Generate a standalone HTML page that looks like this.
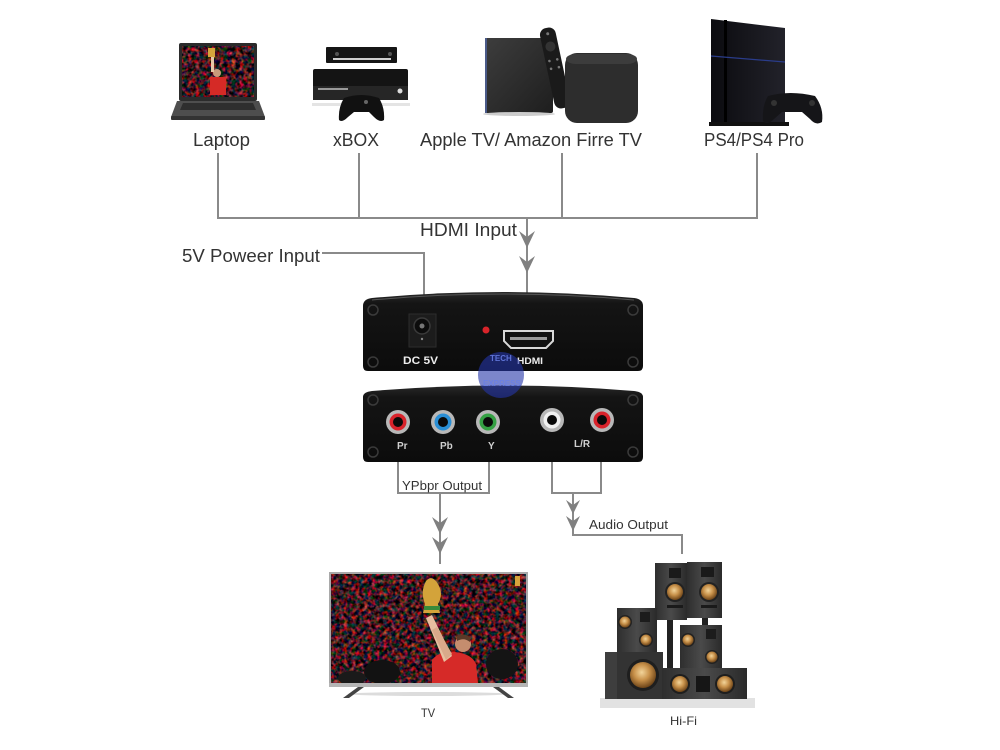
<!DOCTYPE html>
<html>
<head>
<meta charset="utf-8">
<style>
html,body{margin:0;padding:0;background:#fff;}
svg{display:block;}
text{font-family:"Liberation Sans",Arial,sans-serif;}
</style>
</head>
<body>
<svg width="1000" height="750" viewBox="0 0 1000 750" xmlns="http://www.w3.org/2000/svg">
<defs>
  <filter id="crowd" x="0" y="0" width="100%" height="100%" color-interpolation-filters="sRGB">
    <feTurbulence type="fractalNoise" baseFrequency="0.25" numOctaves="2" seed="4" result="n"/>
    <feColorMatrix in="n" type="matrix" values="2.0 0 0 0 -0.75  0.1 0.7 0 0 -0.3  0 0.2 0.6 0 -0.27  0 0 0 0 1"/>
  </filter>
  <radialGradient id="gold" cx="45%" cy="40%" r="60%">
    <stop offset="0" stop-color="#f2d49a"/>
    <stop offset="0.5" stop-color="#c8914a"/>
    <stop offset="1" stop-color="#6d4418"/>
  </radialGradient>
  <linearGradient id="boxg" x1="0" y1="0" x2="0" y2="1">
    <stop offset="0" stop-color="#2a2a2a"/>
    <stop offset="0.15" stop-color="#141414"/>
    <stop offset="1" stop-color="#0c0c0c"/>
  </linearGradient>
  <linearGradient id="spk" x1="0" y1="0" x2="1" y2="0">
    <stop offset="0" stop-color="#2e2e2e"/>
    <stop offset="0.5" stop-color="#4a4a4a"/>
    <stop offset="1" stop-color="#2a2a2a"/>
  </linearGradient>
  <linearGradient id="tab" x1="0" y1="0" x2="1" y2="1">
    <stop offset="0" stop-color="#3d3d3d"/>
    <stop offset="1" stop-color="#1e1e1e"/>
  </linearGradient>
  <linearGradient id="ps" x1="0" y1="0" x2="1" y2="0">
    <stop offset="0" stop-color="#0b0b0f"/>
    <stop offset="1" stop-color="#22222a"/>
  </linearGradient>
  <clipPath id="tvclip"><rect x="331" y="574" width="195" height="109"/></clipPath>
  <clipPath id="lapclip"><rect x="182" y="46" width="72" height="51"/></clipPath>
</defs>

<!-- ================= TOP DEVICES ================= -->
<rect x="179" y="43" width="78" height="58" rx="2" fill="#2b2b2b"/>
<g clip-path="url(#lapclip)">
  <rect x="182" y="46" width="72" height="51" fill="#3a2420"/>
  <rect x="182" y="46" width="72" height="51" filter="url(#crowd)"/>
  <rect x="210" y="77" width="16" height="18" fill="#d52a26"/>
  <circle cx="217" cy="73" r="4" fill="#c99a7a"/>
  <rect x="211" y="56" width="3" height="16" fill="#e8c8a8"/>
  <rect x="208" y="48" width="7" height="9" fill="#d6a43c"/>
</g>
<polygon points="177,101 259,101 265,117 171,117" fill="#4e4e4e"/>
<polygon points="183,103 253,103 256,110 180,110" fill="#2e2e2e"/>
<rect x="171" y="116" width="94" height="4" rx="1" fill="#333"/>

<rect x="326" y="47" width="71" height="16" rx="1" fill="#151515"/>
<rect x="333" y="58" width="58" height="2" fill="#cfcfcf"/>
<circle cx="337" cy="54" r="2" fill="#555"/>
<circle cx="390" cy="54" r="2" fill="#555"/>
<rect x="313" y="69" width="95" height="31" rx="2" fill="#141414"/>
<rect x="313" y="86" width="95" height="14" fill="#262626"/>
<rect x="318" y="88" width="30" height="2" fill="#999"/>
<circle cx="400" cy="91" r="2.5" fill="#ddd"/>
<rect x="312" y="103" width="98" height="3" fill="#e4e4e4"/>
<path d="M344,98 Q361,92 379,98 Q385,108 384,120 Q380,123 374,117 L369,112 L354,112 L348,117 Q342,123 339,120 Q338,108 344,98 Z" fill="#111"/>
<circle cx="366" cy="102" r="2" fill="#666"/>

<rect x="485" y="38" width="68" height="75" rx="2" fill="url(#tab)"/>
<rect x="485" y="38" width="2" height="75" fill="#4a5a88"/>
<ellipse cx="519" cy="114" rx="36" ry="2" fill="#ccc"/>
<g transform="rotate(-12 555 68)">
  <rect x="547" y="27" width="16" height="82" rx="7" fill="#1a1a1a"/>
  <circle cx="555" cy="46" r="5" fill="#333"/>
  <circle cx="555" cy="33" r="1.5" fill="#777"/>
  <circle cx="551" cy="60" r="1.3" fill="#777"/>
  <circle cx="559" cy="60" r="1.3" fill="#777"/>
  <circle cx="551" cy="68" r="1.3" fill="#777"/>
  <circle cx="559" cy="68" r="1.3" fill="#777"/>
</g>
<rect x="565" y="53" width="73" height="70" rx="12" fill="#2d2d2d"/>
<rect x="566" y="54" width="71" height="10" rx="10" fill="#3c3c3c"/>

<polygon points="711,19 785,28 785,125 711,125" fill="url(#ps)"/>
<rect x="724" y="20" width="3" height="105" fill="#000"/>
<line x1="711" y1="56" x2="785" y2="62" stroke="#2a3c8a" stroke-width="1.2"/>
<rect x="709" y="122" width="80" height="4" fill="#111"/>
<path d="M768,96 Q790,90 815,96 Q824,108 822,122 Q816,126 810,119 L802,112 L782,112 L774,119 Q767,126 763,121 Q762,106 768,96 Z" fill="#151518"/>
<circle cx="774" cy="103" r="3" fill="#333"/>
<circle cx="812" cy="103" r="3" fill="#333"/>

<!-- ================= TOP LABELS ================= -->
<g fill="#333" font-size="18">
  <text x="193" y="146" textLength="57" lengthAdjust="spacingAndGlyphs">Laptop</text>
  <text x="333" y="146" textLength="46" lengthAdjust="spacingAndGlyphs">xBOX</text>
  <text x="420" y="146" textLength="222" lengthAdjust="spacingAndGlyphs">Apple TV/ Amazon Firre TV</text>
  <text x="704" y="146" textLength="100" lengthAdjust="spacingAndGlyphs">PS4/PS4 Pro</text>
  <text x="420" y="236" textLength="97" lengthAdjust="spacingAndGlyphs">HDMI Input</text>
  <text x="182" y="262" textLength="138" lengthAdjust="spacingAndGlyphs">5V Poweer Input</text>
</g>

<!-- ================= CONNECTORS ================= -->
<g stroke="#8a8a8a" stroke-width="2" fill="none">
  <polyline points="218,153 218,218 757,218 757,153"/>
  <line x1="359" y1="153" x2="359" y2="218"/>
  <line x1="562" y1="153" x2="562" y2="218"/>
  <line x1="527" y1="218" x2="527" y2="340"/>
  <polyline points="322,253 424,253 424,325"/>
  <polyline points="398,432 398,493 489,493 489,432"/>
  <line x1="440" y1="493" x2="440" y2="564"/>
  <polyline points="552,432 552,493 601,493 601,432"/>
  <polyline points="573,493 573,535 682,535 682,554"/>
</g>
<g fill="#808080">
  <path d="M519,231 L527,237 L535,231 L527,248 Z"/>
  <path d="M519,256 L527,262 L535,256 L527,273 Z"/>
  <path d="M432,517 L440,523 L448,517 L440,534 Z"/>
  <path d="M432,537 L440,543 L448,537 L440,554 Z"/>
  <path d="M566,500 L573,505 L580,500 L573,514 Z"/>
  <path d="M566,516 L573,521 L580,516 L573,531 Z"/>
</g>

<!-- ================= CONVERTER BOX - TOP ================= -->
<path d="M363,306 Q363,299 372,298 Q503,286 634,298 Q643,299 643,306 L643,366 Q643,371 638,371 L368,371 Q363,371 363,366 Z" fill="url(#boxg)"/>
<path d="M372,300 Q503,288 634,300" stroke="#555" stroke-width="1" fill="none"/>
<g fill="none" stroke="#3a3a3a" stroke-width="1.5">
  <circle cx="373" cy="310" r="5"/><circle cx="633" cy="310" r="5"/>
  <circle cx="373" cy="362" r="5"/><circle cx="633" cy="362" r="5"/>
</g>
<rect x="409" y="314" width="27" height="33" fill="#1c1c1c" stroke="#2c2c2c"/>
<circle cx="422" cy="326" r="8" fill="#0c0c0c" stroke="#3a3a3a" stroke-width="1.5"/>
<circle cx="422" cy="326" r="2.5" fill="#777"/>
<circle cx="422" cy="339" r="1.2" fill="#888"/>
<circle cx="486" cy="330" r="3.5" fill="#d8242a"/>
<path d="M504,331 L553,331 L553,341 L546,348 L511,348 L504,341 Z" fill="#111" stroke="#d8d8d8" stroke-width="2"/>
<rect x="510" y="337" width="37" height="3" fill="#999"/>
<g fill="#eee" font-weight="bold">
  <text x="403" y="364" font-size="11" textLength="35" lengthAdjust="spacingAndGlyphs">DC 5V</text>
  <text x="517" y="364" font-size="9" textLength="26" lengthAdjust="spacingAndGlyphs">HDMI</text>
</g>

<!-- ================= CONVERTER BOX - BOTTOM ================= -->
<path d="M363,397 Q363,392 372,391 Q503,380 634,391 Q643,392 643,397 L643,457 Q643,462 638,462 L368,462 Q363,462 363,457 Z" fill="url(#boxg)"/>
<g fill="none" stroke="#3a3a3a" stroke-width="1.5">
  <circle cx="373" cy="400" r="5"/><circle cx="633" cy="400" r="5"/>
  <circle cx="373" cy="452" r="5"/><circle cx="633" cy="452" r="5"/>
</g>
<g>
  <circle cx="398" cy="422" r="12" fill="#b8b8b8"/><circle cx="398" cy="422" r="8.5" fill="#d9232b"/><circle cx="398" cy="422" r="5" fill="#0a0a0a"/>
  <circle cx="443" cy="422" r="12" fill="#b8b8b8"/><circle cx="443" cy="422" r="8.5" fill="#2a8fd6"/><circle cx="443" cy="422" r="5" fill="#0a0a0a"/>
  <circle cx="488" cy="422" r="12" fill="#b8b8b8"/><circle cx="488" cy="422" r="8.5" fill="#34a043"/><circle cx="488" cy="422" r="5" fill="#0a0a0a"/>
  <circle cx="552" cy="420" r="12" fill="#b8b8b8"/><circle cx="552" cy="420" r="8.5" fill="#f2f2f2"/><circle cx="552" cy="420" r="5" fill="#0a0a0a"/>
  <circle cx="602" cy="420" r="12" fill="#b8b8b8"/><circle cx="602" cy="420" r="8.5" fill="#d9232b"/><circle cx="602" cy="420" r="5" fill="#0a0a0a"/>
</g>
<g fill="#d0d0d0" font-size="10" font-weight="bold">
  <text x="397" y="449">Pr</text>
  <text x="440" y="449">Pb</text>
  <text x="488" y="449">Y</text>
  <text x="574" y="447">L/R</text>
</g>

<!-- Watermark -->
<circle cx="501" cy="375" r="23" fill="#2535a8" opacity="0.6"/>
<g fill="#6a80e8" font-weight="bold" opacity="0.85">
  <text x="490" y="361" font-size="8">TECH</text>
  <text x="483" y="386" font-size="8">EXPRESS</text>
</g>

<!-- ================= BOTTOM LABELS ================= -->
<g fill="#333" font-size="13">
  <text x="402" y="490" textLength="80" lengthAdjust="spacingAndGlyphs">YPbpr Output</text>
  <text x="589" y="529" textLength="79" lengthAdjust="spacingAndGlyphs">Audio Output</text>
  <text x="421" y="717" font-size="12" textLength="14" lengthAdjust="spacingAndGlyphs">TV</text>
  <text x="670" y="725" font-size="12" textLength="27" lengthAdjust="spacingAndGlyphs">Hi-Fi</text>
</g>

<!-- ================= TV ================= -->
<ellipse cx="428" cy="694" rx="80" ry="2" fill="#dcdcdc"/>
<rect x="329" y="572" width="199" height="115" fill="#a9a9a9"/>
<g clip-path="url(#tvclip)">
  <rect x="331" y="574" width="195" height="109" fill="#3b2622"/>
  <rect x="331" y="574" width="195" height="109" filter="url(#crowd)"/>
  <ellipse cx="382" cy="672" rx="18" ry="12" fill="#121212"/>
  <ellipse cx="502" cy="664" rx="16" ry="15" fill="#141414"/>
  <ellipse cx="352" cy="678" rx="14" ry="7" fill="#1a1a1a"/>
  <path d="M432,660 Q440,650 455,652 Q472,654 476,664 L478,683 L432,683 Z" fill="#d62a28"/>
  <circle cx="463" cy="644" r="8" fill="#c58d6e"/>
  <path d="M457,636 Q464,632 471,638 L470,642 Q464,637 457,641 Z" fill="#5a3a28"/>
  <path d="M444,662 L426,618 L432,615 L452,656 Z" fill="#e8bfa0"/>
  <path d="M446,660 L432,630 L437,627 L452,654 Z" fill="#d9a98a"/>
  <path d="M423,613 L440,613 L438,604 Q444,594 438,584 Q432,574 426,581 Q420,592 425,604 Z" fill="#d3a33a"/>
  <rect x="424" y="606" width="16" height="4" fill="#3a8a3a"/>
  <rect x="515" y="576" width="5" height="10" fill="#d6a43c"/>
</g>
<rect x="329" y="683" width="199" height="4" fill="#b5b5b5"/>
<polygon points="358,687 364,687 349,698 343,698" fill="#444"/>
<polygon points="493,687 499,687 514,698 508,698" fill="#444"/>

<!-- ================= HI-FI ================= -->
<rect x="600" y="698" width="155" height="10" fill="#e2e2e2"/>
<rect x="667" y="618" width="6" height="52" fill="#222"/>
<rect x="702" y="616" width="6" height="12" fill="#222"/>
<rect x="655" y="563" width="32" height="57" fill="url(#spk)"/>
<rect x="669" y="568" width="12" height="10" fill="#1a1a1a"/>
<circle cx="675" cy="592" r="10" fill="#222"/><circle cx="675" cy="592" r="8" fill="url(#gold)"/>
<rect x="667" y="605" width="16" height="3" fill="#1a1a1a"/>
<rect x="687" y="562" width="35" height="56" fill="url(#spk)"/>
<rect x="701" y="567" width="13" height="10" fill="#1a1a1a"/>
<circle cx="709" cy="592" r="10" fill="#222"/><circle cx="709" cy="592" r="8" fill="url(#gold)"/>
<rect x="701" y="605" width="16" height="3" fill="#1a1a1a"/>
<rect x="617" y="608" width="40" height="44" fill="url(#spk)"/>
<circle cx="625" cy="622" r="7" fill="#222"/><circle cx="625" cy="622" r="5.5" fill="url(#gold)"/>
<circle cx="646" cy="640" r="7" fill="#222"/><circle cx="646" cy="640" r="5.5" fill="url(#gold)"/>
<rect x="640" y="612" width="10" height="10" fill="#1c1c1c"/>
<rect x="680" y="625" width="42" height="43" fill="url(#spk)"/>
<circle cx="688" cy="640" r="7" fill="#222"/><circle cx="688" cy="640" r="5.5" fill="url(#gold)"/>
<circle cx="712" cy="657" r="7" fill="#222"/><circle cx="712" cy="657" r="5.5" fill="url(#gold)"/>
<rect x="706" y="629" width="10" height="10" fill="#1c1c1c"/>
<rect x="605" y="652" width="58" height="47" fill="#333"/>
<rect x="605" y="652" width="12" height="47" fill="#3e3e3e"/>
<circle cx="643" cy="675" r="16" fill="#1e1e1e"/><circle cx="643" cy="675" r="13" fill="url(#gold)"/>
<rect x="662" y="668" width="85" height="31" fill="url(#spk)"/>
<circle cx="680" cy="684" r="10" fill="#1e1e1e"/><circle cx="680" cy="684" r="8" fill="url(#gold)"/>
<circle cx="725" cy="684" r="10" fill="#1e1e1e"/><circle cx="725" cy="684" r="8" fill="url(#gold)"/>
<rect x="696" y="676" width="14" height="16" fill="#161616"/>
</svg>
</body>
</html>
